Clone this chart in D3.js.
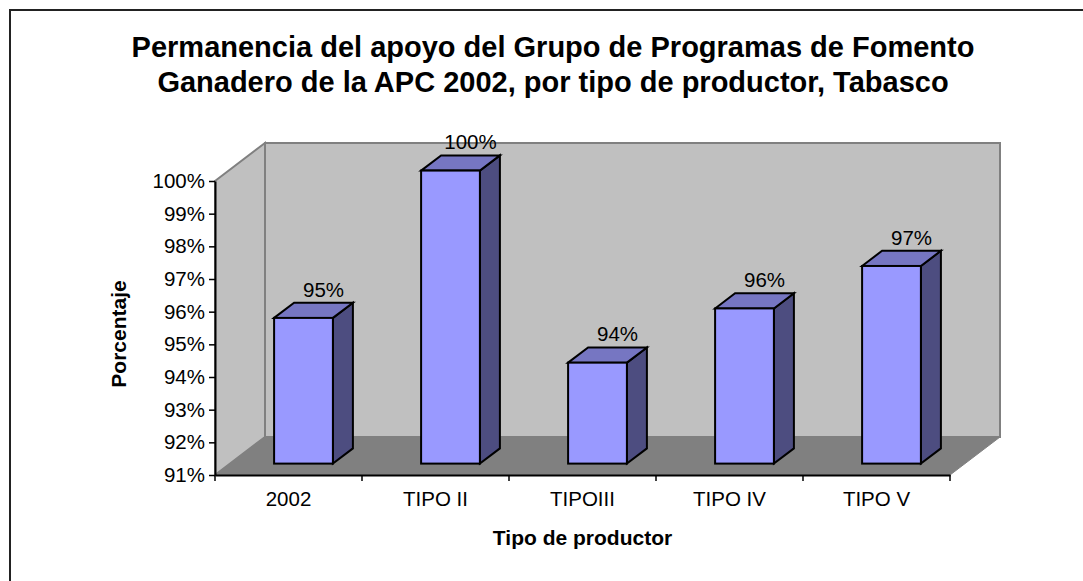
<!DOCTYPE html>
<html>
<head>
<meta charset="utf-8">
<script src="https://cdn.jsdelivr.net/npm/d3@7"></script>
<style>
  body { margin: 0; background: #fff; }
  svg { display: block; }
  text { font-family: Arial, 'Liberation Sans', sans-serif; fill: #000; }
</style>
</head>
<body>
<div class="chart"></div>
<script>
// data
const categories = ['2002', 'TIPO II', 'TIPOIII', 'TIPO IV', 'TIPO V'];
const values = [95.46, 99.97, 94.09, 95.75, 97.05];
const yTicks = [91, 92, 93, 94, 95, 96, 97, 98, 99, 100];
const titleLines = ['Permanencia del apoyo del Grupo de Programas de Fomento',
    'Ganadero de la APC 2002, por tipo de productor, Tabasco'];

const width = 1083, height = 581;
const fontFamily = "Arial, 'Liberation Sans', sans-serif";
const depth = {'dx': 50, 'dy': 38};        // 3d depth of the plot box
const barDepth = {'front': 0.3, 'back': 0.7}; // where the bars sit in the depth

let svg = d3.select('.chart')
    .append('svg')
    .attr('width', width)
    .attr('height', height);

// frame (cut off right and bottom)
svg.append('rect')
    .attr('x', 10).attr('y', 10)
    .attr('width', 1200).attr('height', 700)
    .attr('fill', 'none')
    .attr('stroke', '#222')
    .attr('stroke-width', 2);

// title
svg.append('text')
    .attr('text-anchor', 'middle')
    .attr('font-size', '29px')
    .attr('font-weight', 'bold')
    .selectAll('tspan')
    .data(titleLines)
    .enter().append('tspan')
    .attr('x', 553)
    .attr('y', (d, i) => 57 + i * 35)
    .text(d => d);

// scales
let x = d3.scaleBand()
    .domain(categories)
    .range([215, 950])
    .paddingInner(0.6)
    .paddingOuter(0.3);
let xCat = d3.scaleBand()
    .domain(categories)
    .range([215, 950]);
let y = d3.scaleLinear()
    .domain([91, 100])
    .range([475, 181]);

let x0 = xCat.range()[0], x1 = xCat.range()[1];
let yb = y(91), yt = y(100);
let pts = a => a.map(p => p.join(',')).join(' ');

// walls and floor
let box = svg.append('g');
box.append('polygon')
    .attr('points', pts([[x0 + depth.dx, yt - depth.dy], [x1 + depth.dx, yt - depth.dy],
        [x1 + depth.dx, yb - depth.dy], [x0 + depth.dx, yb - depth.dy]]))
    .attr('fill', '#c0c0c0').attr('stroke', '#808080').attr('stroke-width', 2);
box.append('polygon')
    .attr('points', pts([[x0, yt], [x0 + depth.dx, yt - depth.dy],
        [x0 + depth.dx, yb - depth.dy], [x0, yb]]))
    .attr('fill', '#c0c0c0').attr('stroke', '#808080').attr('stroke-width', 2);
box.append('polygon')
    .attr('points', pts([[x0, yb], [x0 + depth.dx, yb - depth.dy],
        [x1 + depth.dx, yb - depth.dy], [x1, yb]]))
    .attr('fill', '#808080').attr('stroke', '#808080').attr('stroke-width', 1);

// bars
let fdx = depth.dx * barDepth.front, fdy = depth.dy * barDepth.front;
let bdx = depth.dx * barDepth.back, bdy = depth.dy * barDepth.back;
let bw = x.bandwidth();
let data = categories.map((c, i) => ({'cat': c, 'value': values[i]}));

let bars = svg.append('g')
    .selectAll('g')
    .data(data)
    .enter().append('g')
    .attr('stroke', '#000')
    .attr('stroke-width', 2)
    .attr('stroke-linejoin', 'miter');

bars.append('polygon')
    .attr('fill', '#4d4d80')
    .attr('points', d => {
        let l = x(d.cat) + fdx + bw, t = y(d.value) - fdy, b = yb - fdy;
        return pts([[l, t], [l + bdx - fdx, t - (bdy - fdy)], [l + bdx - fdx, b - (bdy - fdy)], [l, b]]);
    });
bars.append('polygon')
    .attr('fill', '#7676c2')
    .attr('points', d => {
        let l = x(d.cat) + fdx, t = y(d.value) - fdy;
        let ox = bdx - fdx, oy = bdy - fdy;
        return pts([[l, t], [l + ox, t - oy], [l + bw + ox, t - oy], [l + bw, t]]);
    });
bars.append('rect')
    .attr('fill', '#9999ff')
    .attr('x', d => x(d.cat) + fdx)
    .attr('y', d => y(d.value) - fdy)
    .attr('width', bw)
    .attr('height', d => y(91) - y(d.value));

// data labels
svg.append('g')
    .selectAll('text')
    .data(data)
    .enter().append('text')
    .attr('text-anchor', 'middle')
    .attr('font-size', '20.5px')
    .attr('x', d => x(d.cat) + bw / 2 + bdx)
    .attr('y', d => y(d.value) - bdy - 6)
    .text(d => Math.round(d.value) + '%');

// y axis
let axis_y = d3.axisLeft(y)
    .tickValues(yTicks)
    .tickFormat(d => d + '%')
    .tickSize(6)
    .tickSizeOuter(0)
    .tickPadding(4);
let gy = svg.append('g')
    .attr('transform', `translate(${x0}, 0)`)
    .call(axis_y)
    .attr('font-family', fontFamily)
    .attr('font-size', '20.5px');
gy.select('.domain').attr('stroke', '#000').attr('stroke-width', 2);
gy.selectAll('.tick line').attr('stroke', '#000').attr('stroke-width', 1.5);
gy.selectAll('.tick text').attr('fill', '#000');

// x axis
let axis_x = d3.axisBottom(xCat)
    .tickSize(0)
    .tickSizeOuter(0)
    .tickPadding(16);
let gx = svg.append('g')
    .attr('transform', `translate(0, ${yb})`)
    .call(axis_x)
    .attr('font-family', fontFamily)
    .attr('font-size', '20.5px');
gx.select('.domain').attr('stroke', '#000').attr('stroke-width', 2);
gx.selectAll('.tick text').attr('fill', '#000');
gx.selectAll('.sep')
    .data(categories.map(c => xCat(c)).concat([x1]))
    .enter().append('line')
    .attr('class', 'sep')
    .attr('x1', d => d).attr('x2', d => d)
    .attr('y1', 0).attr('y2', 6)
    .attr('stroke', '#000')
    .attr('stroke-width', 1.5);

// axis titles
svg.append('text')
    .attr('text-anchor', 'middle')
    .attr('font-size', '21px')
    .attr('font-weight', 'bold')
    .attr('x', (x0 + x1) / 2)
    .attr('y', 545)
    .text('Tipo de productor');
svg.append('text')
    .attr('text-anchor', 'middle')
    .attr('font-size', '21px')
    .attr('font-weight', 'bold')
    .attr('transform', 'translate(126, 334) rotate(-90)')
    .text('Porcentaje');
</script>
</body>
</html>
